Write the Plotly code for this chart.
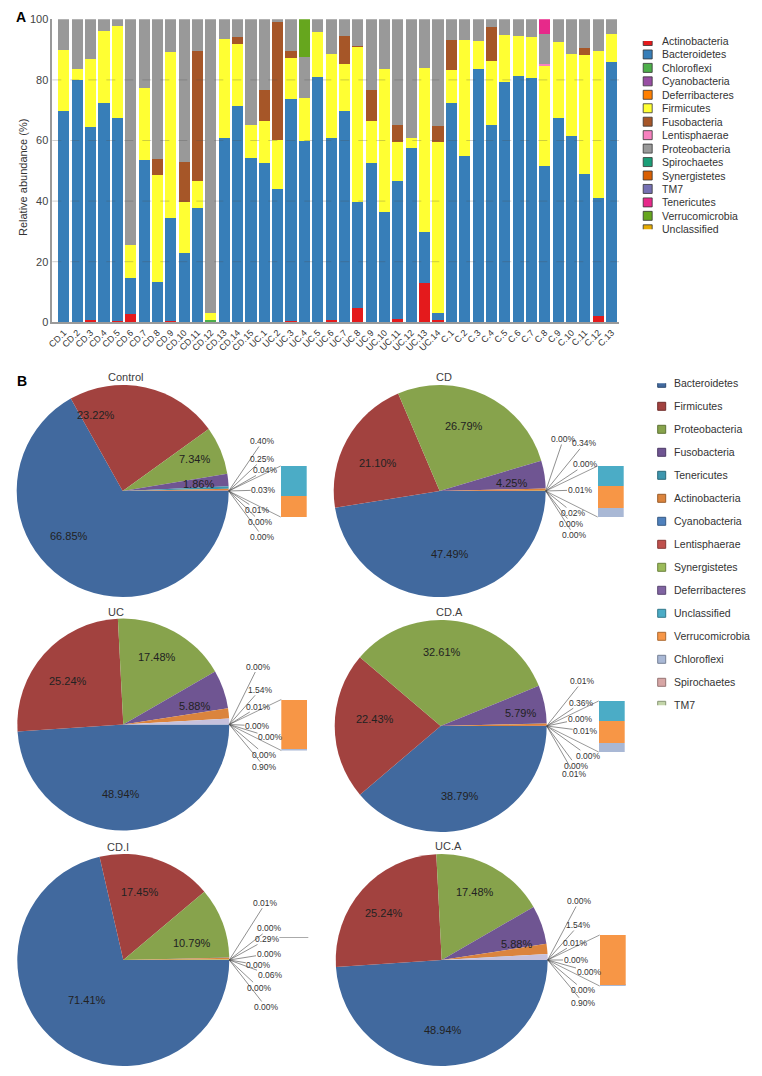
import plotly.graph_objects as go

# ======================= Panel A data =======================
SAMPLES = ["CD.1", "CD.2", "CD.3", "CD.4", "CD.5", "CD.6", "CD.7", "CD.8", "CD.9", "CD.10",
           "CD.11", "CD.12", "CD.13", "CD.14", "CD.15",
           "UC.1", "UC.2", "UC.3", "UC.4", "UC.5", "UC.6", "UC.7", "UC.8", "UC.9", "UC.10",
           "UC.11", "UC.12", "UC.13", "UC.14",
           "C.1", "C.2", "C.3", "C.4", "C.5", "C.6", "C.7", "C.8", "C.9", "C.10", "C.11", "C.12", "C.13"]

ACTINOBACTERIA = [0, 0, 0.7, 0, 0.5, 2.8, 0, 0, 0.5, 0, 0, 0, 0, 0, 0,
                  0, 0, 0.4, 0, 0, 0.7, 0, 4.6, 0, 0, 1.0, 0, 12.9, 0.8,
                  0, 0, 0, 0, 0, 0, 0, 0, 0, 0, 0, 2.1, 0]
BACTEROIDETES = [69.6, 80.1, 63.9, 72.5, 66.9, 11.8, 53.6, 13.4, 33.8, 22.9, 37.8, 0.2, 60.8, 71.4, 54.2,
                 52.7, 44.1, 73.2, 60.0, 80.9, 60.2, 69.6, 35.1, 52.7, 36.3, 45.5, 57.6, 16.8, 2.4,
                 72.5, 54.9, 83.7, 65.2, 79.4, 81.3, 80.6, 51.7, 67.3, 61.4, 48.8, 38.9, 85.8]
CHLOROFLEXI = [0, 0, 0, 0, 0, 0, 0, 0, 0, 0, 0, 0.5, 0, 0, 0,
               0, 0, 0, 0, 0, 0, 0, 0, 0, 0, 0, 0, 0, 0,
               0, 0, 0, 0, 0, 0, 0, 0, 0, 0, 0, 0, 0]
FIRMICUTES = [20.4, 3.4, 22.4, 23.8, 30.4, 10.8, 23.6, 35.1, 55.0, 16.7, 9.0, 2.3, 32.8, 20.6, 10.9,
              13.7, 16.1, 13.7, 13.9, 14.8, 27.7, 15.8, 51.2, 13.7, 47.3, 13.1, 3.3, 54.2, 56.4,
              10.9, 38.3, 9.3, 21.2, 15.3, 13.3, 13.5, 33.0, 25.1, 27.0, 39.4, 48.5, 9.4]
FUSOBACTERIA = [0, 0, 0, 0, 0, 0, 0, 5.3, 0, 13.3, 42.8, 0, 0, 2.1, 0,
                10.3, 39.0, 2.3, 0, 0, 0, 9.2, 0.4, 10.4, 0, 5.4, 0, 0, 5.3,
                9.9, 0, 0, 11.2, 0, 0, 0, 0, 0, 0, 2.4, 0, 0]
LENTISPHAERAE = [0, 0, 0, 0, 0, 0, 0, 0, 0, 0, 0, 0, 0, 0, 0,
                 0, 0, 0, 0, 0, 0, 0, 0, 0, 0, 0, 0, 0, 0,
                 0, 0, 0, 0, 0, 0, 0, 0.4, 0, 0, 0, 0, 0]
PROTEOBACTERIA = [10.0, 16.5, 13.0, 3.7, 2.2, 74.6, 22.8, 46.2, 10.7, 47.1, 10.4, 97.0, 6.4, 5.9, 34.9,
                  23.3, 0.8, 10.4, 13.8, 4.3, 11.4, 5.4, 8.7, 23.2, 16.4, 35.0, 39.1, 16.1, 35.1,
                  6.7, 6.8, 7.0, 2.4, 5.3, 5.4, 5.9, 10.1, 7.6, 11.6, 9.4, 10.5, 4.8]
TENERICUTES = [0, 0, 0, 0, 0, 0, 0, 0, 0, 0, 0, 0, 0, 0, 0,
               0, 0, 0, 0, 0, 0, 0, 0, 0, 0, 0, 0, 0, 0,
               0, 0, 0, 0, 0, 0, 0, 4.8, 0, 0, 0, 0, 0]
VERRUCOMICROBIA = [0, 0, 0, 0, 0, 0, 0, 0, 0, 0, 0, 0, 0, 0, 0,
                   0, 0, 0, 12.3, 0, 0, 0, 0, 0, 0, 0, 0, 0, 0,
                   0, 0, 0, 0, 0, 0, 0, 0, 0, 0, 0, 0, 0]
Y_TICKS = [0, 20, 40, 60, 80, 100]

LEGEND_A = ["Actinobacteria", "Bacteroidetes", "Chloroflexi", "Cyanobacteria", "Deferribacteres",
            "Firmicutes", "Fusobacteria", "Lentisphaerae", "Proteobacteria", "Spirochaetes",
            "Synergistetes", "TM7", "Tenericutes", "Verrucomicrobia", "Unclassified"]
COLORS_A = ["#e41a1c", "#377eb8", "#4daf4a", "#984ea3", "#ff7f00",
            "#ffff33", "#a65628", "#f781bf", "#999999", "#1b9e77",
            "#d95f02", "#7570b3", "#e7298a", "#66a61e", "#e6ab02"]

BAR_SERIES = [("Actinobacteria", ACTINOBACTERIA), ("Bacteroidetes", BACTEROIDETES),
              ("Chloroflexi", CHLOROFLEXI), ("Firmicutes", FIRMICUTES),
              ("Fusobacteria", FUSOBACTERIA), ("Lentisphaerae", LENTISPHAERAE),
              ("Proteobacteria", PROTEOBACTERIA), ("Tenericutes", TENERICUTES),
              ("Verrucomicrobia", VERRUCOMICROBIA)]

# ======================= Panel B data =======================
PIE_GROUPS = ["Control", "CD", "UC", "CD.A", "CD.I", "UC.A"]
PIE_SLICES = ["Bacteroidetes", "Firmicutes", "Proteobacteria", "Fusobacteria", "Tenericutes",
              "Actinobacteria", "Cyanobacteria", "Lentisphaerae", "Synergistetes",
              "Deferribacteres", "Other"]
PIE_CONTROL = [66.85, 23.22, 7.34, 1.86, 0.40, 0.25, 0.04, 0.03, 0.01, 0.00, 0.00]
PIE_CD = [47.49, 21.10, 26.79, 4.25, 0.00, 0.34, 0.00, 0.01, 0.02, 0.00, 0.00]
PIE_UC = [48.94, 25.24, 17.48, 5.88, 0.00, 1.54, 0.01, 0.00, 0.00, 0.00, 0.90]
PIE_CD_A = [38.79, 22.43, 32.61, 5.79, 0.01, 0.36, 0.00, 0.01, 0.00, 0.00, 0.01]
PIE_CD_I = [71.41, 17.45, 10.79, 0.01, 0.00, 0.29, 0.00, 0.00, 0.06, 0.00, 0.00]
PIE_UC_A = [48.94, 25.24, 17.48, 5.88, 0.00, 1.54, 0.01, 0.00, 0.00, 0.00, 0.90]
PIE_VALUES = [PIE_CONTROL, PIE_CD, PIE_UC, PIE_CD_A, PIE_CD_I, PIE_UC_A]

# breakdown of the "Other" slice (bar of pie), bottom to top
BOX_PARTS = ["Chloroflexi", "Verrucomicrobia", "Unclassified"]
BOX_CONTROL = [0.0, 0.0021, 0.0030]
BOX_CD = [0.0009, 0.0022, 0.0020]
BOX_UC = [0.02, 0.88, 0.0]
BOX_CD_A = [0.0018, 0.0046, 0.0041]
BOX_CD_I = [0.0, 0.0, 0.0]
BOX_UC_A = [0.02, 0.88, 0.0]
BOX_VALUES = [BOX_CONTROL, BOX_CD, BOX_UC, BOX_CD_A, BOX_CD_I, BOX_UC_A]

LEGEND_B = ["Bacteroidetes", "Firmicutes", "Proteobacteria", "Fusobacteria", "Tenericutes",
            "Actinobacteria", "Cyanobacteria", "Lentisphaerae", "Synergistetes", "Deferribacteres",
            "Unclassified", "Verrucomicrobia", "Chloroflexi", "Spirochaetes", "TM7"]
COLORS_B = ["#41699e", "#a2423f", "#87a34c", "#6f5592", "#3d96ae",
            "#db843d", "#4f81bd", "#c0504d", "#9bbb59", "#8064a2",
            "#4bacc6", "#f79646", "#a9b8d5", "#d7a6a5", "#c3d5a9"]
OTHER_COLOR = "#c6c1dc"

# ======================= layout helpers =======================
W, H, OFF = 746, 1060, 8
FONT = "Liberation Sans, Arial, sans-serif"


def PX(x):
    return min(1.0, max(0.0, (x - OFF) / W))


def PY(y):
    return min(1.0, max(0.0, 1 - (y - OFF) / H))


def darker(hexc, f=0.7):
    r, g, b = int(hexc[1:3], 16), int(hexc[3:5], 16), int(hexc[5:7], 16)
    return "#%02x%02x%02x" % (int(r * f), int(g * f), int(b * f))


def text_at(text, x, y, size, color, angle=0):
    return dict(text=text, x=PX(x), y=PY(y), xref="paper", yref="paper", xanchor="center",
                yanchor="middle", showarrow=False, textangle=angle,
                font=dict(size=size, color=color, family=FONT))


PIE_CENTERS = [(122.7, 491), (439.7, 491), (123.3, 724.5), (440.7, 726), (123.3, 960), (441.7, 960)]
PIE_TITLE_POS = [(125.3, 377), (444, 377.3), (116, 611.7), (450, 612.3), (118.3, 846.7), (449, 845.7)]
R = 106
MAIN_OFFSETS = [
    [(-53.7, 44.7), (-26.7, -76), (71.6, -31.7), (75.6, -6.7)],
    [(10.3, 63), (-62, -27.7), (24.6, -65.3), (71.3, -8.3)],
    [(-2.6, 69.3), (-55, -44), (33.4, -68), (70.7, -18.7)],
    [(19.3, 69.7), (-66, -6.7), (1.6, -73.7), (79.3, -12.7)],
    [(-36, 40), (16.7, -68.3), (68.4, -16.6)],
    [(1.6, 70), (-57.4, -46.7), (33.3, -68.3), (75, -16)],
]
SMALL_OFFSETS = [
    [(34, -50), (34, -32), (37, -21), (35, -1), (29, 19), (32, 31), (34, 46)],
    [(17.7, -52), (38.7, -47.7), (40, -26.7), (34.3, -1), (27.7, 22), (26, 33), (28.3, 44.3)],
    [(28.7, -58), (30.7, -34.7), (29.5, -18), (28.2, 1.3), (41.2, 12.7), (35.4, 30), (35.4, 42.7)],
    [(35.8, -45), (34.8, -23.3), (33.3, -7), (39, 5), (41.3, 29.7), (29.3, 39.7), (27.6, 48.3)],
    [(36.4, -57.3), (40.4, -31.6), (38.2, -21), (39.7, -6.3), (29.5, 5), (40.7, 15), (29.7, 27.7), (36.7, 47)],
    [(31.3, -59), (31, -35), (28.2, -17.3), (28.3, 0), (41.3, 11.7), (35.7, 30), (36, 43.3)],
]

fig = go.Figure()
annotations = []
shapes = []
layout_axes = {}

# ======================= Panel A: stacked bars =======================
color_a = dict(zip(LEGEND_A, COLORS_A))
for name, vals in BAR_SERIES:
    fig.add_trace(go.Bar(x=SAMPLES, y=vals, name=name, marker_color=color_a[name],
                         marker_line_width=0, showlegend=False, xaxis="x", yaxis="y"))

layout_axes["xaxis"] = dict(domain=[PX(52.3), PX(619)], range=[-0.87, 41.55], type="category",
                            tickangle=-45, tickfont=dict(size=9, color="#333", family=FONT),
                            showline=True, linecolor="#9a9a9a", linewidth=1.5, ticks="",
                            showgrid=False, anchor="y", automargin=False)
layout_axes["yaxis"] = dict(domain=[PY(322.3), PY(19.3)], range=[0, 100], tickvals=Y_TICKS,
                            tickfont=dict(size=11, color="#444", family=FONT),
                            showline=True, linecolor="#9a9a9a", linewidth=1.5, ticks="",
                            showgrid=False, zeroline=False, anchor="x", automargin=False)
# faint dashed grid drawn over the bars, as in the original
for v in Y_TICKS[1:-1]:
    shapes.append(dict(type="line", xref="x domain", yref="y", x0=0, x1=1, y0=v, y1=v, layer="above",
                       line=dict(color="rgba(80,80,80,0.28)", width=1, dash="dash")))

annotations.append(text_at("Relative abundance (%)", 22.5, 177.5, 11, "#333", angle=-90))
annotations.append(text_at("<b>A</b>", 20.5, 17, 14, "#000"))
annotations.append(text_at("<b>B</b>", 21.5, 381, 14, "#000"))

# legend A (custom, compact)
fig.add_trace(go.Scatter(x=[7.7] * len(LEGEND_A), y=list(range(len(LEGEND_A))), mode="markers",
                         marker=dict(symbol="square", size=9, color=COLORS_A, line=dict(color="#333", width=0.8)),
                         showlegend=False, hoverinfo="skip", xaxis="x2", yaxis="y2"))
layout_axes["xaxis2"] = dict(domain=[PX(640), PX(754)], range=[0, 114], visible=False, anchor="y2",
                             automargin=False)
layout_axes["yaxis2"] = dict(domain=[PY(229.3), PY(41)], range=[len(LEGEND_A) - 1, 0], visible=False,
                             anchor="x2", automargin=False)
for i, name in enumerate(LEGEND_A):
    annotations.append(dict(text=name, x=20, y=i, xref="x2", yref="y2", xanchor="left", yanchor="middle",
                            showarrow=False, font=dict(size=10.5, color="#333", family=FONT)))

# ======================= Panel B: pies =======================
color_b = dict(zip(LEGEND_B, COLORS_B))
color_b["Other"] = OTHER_COLOR
for k, (grp, vals) in enumerate(zip(PIE_GROUPS, PIE_VALUES)):
    cx, cy = PIE_CENTERS[k]
    fig.add_trace(go.Pie(values=vals, labels=PIE_SLICES, sort=False, direction="clockwise", rotation=90,
                         marker=dict(colors=[color_b[s] for s in PIE_SLICES], line=dict(width=0)),
                         textinfo="none", showlegend=False, hoverinfo="label+value",
                         domain=dict(x=[PX(cx - R), PX(cx + R)], y=[PY(cy + R), PY(cy - R)])))
    tx, ty = PIE_TITLE_POS[k]
    annotations.append(text_at(grp, tx, ty, 11, "#404040"))
    # labels
    main_i = 0
    small_i = 0
    ex, ey = cx + R, cy
    for idx, v in enumerate(vals):
        if idx < 4 and v >= 1:
            dx, dy = MAIN_OFFSETS[k][main_i]
            main_i += 1
            annotations.append(text_at("%.2f%%" % v, cx + dx, cy + dy, 11, "#222"))
        else:
            dx, dy = SMALL_OFFSETS[k][small_i]
            small_i += 1
            annotations.append(dict(text="%.2f%%" % v, x=PX(ex), y=PY(ey), xref="paper", yref="paper",
                                    xanchor="center", yanchor="middle",
                                    ax=dx, ay=dy, showarrow=True, arrowhead=0, arrowwidth=0.6,
                                    arrowcolor="#444", standoff=0, borderpad=0,
                                    font=dict(size=8.5, color="#333", family=FONT)))
    # bar of pie
    bx0, bx1, by0, by1 = ex + 52, ex + 78, ey - 25, ey + 26
    box = BOX_VALUES[k]
    total = sum(box)
    if total > 0:
        n = 4 + k
        for part, v in zip(BOX_PARTS, box):
            fig.add_trace(go.Bar(x=[0], y=[v], width=[1], marker_color=color_b[part], marker_line_width=0,
                                 showlegend=False, hoverinfo="skip", xaxis="x%d" % n, yaxis="y%d" % n))
        layout_axes["xaxis%d" % n] = dict(domain=[PX(bx0), PX(bx1)], range=[-0.5, 0.5], visible=False,
                                          anchor="y%d" % n, automargin=False)
        layout_axes["yaxis%d" % n] = dict(domain=[PY(by1), PY(by0)], range=[0, total], visible=False,
                                          anchor="x%d" % n, automargin=False)
        for yy in (by0, by1):
            shapes.append(dict(type="line", xref="paper", yref="paper", x0=PX(ex), y0=PY(ey),
                               x1=PX(bx0), y1=PY(yy), line=dict(color="#555", width=0.6)))
    else:
        shapes.append(dict(type="line", xref="paper", yref="paper", x0=PX(bx0 - 2), y0=PY(by0 + 2.5),
                           x1=PX(bx1 + 1), y1=PY(by0 + 2.5), line=dict(color="#aaa", width=1)))

# legend B (custom)
fig.add_trace(go.Scatter(x=[11.7] * len(LEGEND_B), y=list(range(len(LEGEND_B))), mode="markers",
                         marker=dict(symbol="square", size=8, color=COLORS_B,
                                     line=dict(color=[darker(c) for c in COLORS_B], width=1)),
                         showlegend=False, hoverinfo="skip", xaxis="x3", yaxis="y3"))
layout_axes["xaxis3"] = dict(domain=[PX(650), PX(754)], range=[0, 104], visible=False, anchor="y3",
                             automargin=False)
layout_axes["yaxis3"] = dict(domain=[PY(705.3), PY(383.3)], range=[len(LEGEND_B) - 1, 0], visible=False,
                             anchor="x3", automargin=False)
for i, name in enumerate(LEGEND_B):
    annotations.append(dict(text=name, x=22, y=i, xref="x3", yref="y3", xanchor="left", yanchor="middle",
                            showarrow=False, font=dict(size=10.5, color="#333", family=FONT)))

fig.update_layout(width=W, height=H, margin=dict(l=0, r=0, t=0, b=0, pad=0), autosize=False,
                  paper_bgcolor="white", plot_bgcolor="white", barmode="stack", bargap=0.17,
                  showlegend=False, annotations=annotations, shapes=shapes,
                  font=dict(family=FONT, color="#333"), **layout_axes)

fig.write_html("out.html")
